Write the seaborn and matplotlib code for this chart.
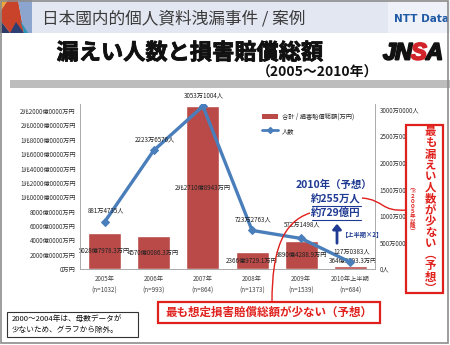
import matplotlib
matplotlib.use("Agg")
import matplotlib.pyplot as plt
import matplotlib.patheffects as pe
import seaborn as sns
import numpy as np
import pandas as pd
from matplotlib.patches import Rectangle, Polygon, FancyArrowPatch, PathPatch
from matplotlib.path import Path
from matplotlib.lines import Line2D

sns.set_theme(style="white")
plt.rcParams['font.family'] = ['Noto Sans CJK JP', 'DejaVu Sans']

# ---------------- data ----------------
categories = ["2005年\n(n=1032)", "2006年\n(n=993)", "2007年\n(n=864)",
              "2008年\n(n=1373)", "2009年\n(n=1539)", "2010年上半期\n(n=684)"]
damage_oku = [5028.80, 4570.01, 22710.89, 2366.97, 3890.43, 364.38]   # 億円
people_man = [881.47, 2223.66, 3053.10, 723.28, 572.15, 127.04]      # 万人
damage_labels = ["5028億7978.3万円", "4570億0086.3万円", "2兆2710億8943万円",
                 "2366億9729.1万円", "3890億4288.9万円", "364億3793.3万円"]
people_labels = ["881万4735人", "2223万6576人", "3053万1004人",
                 "723万2763人", "572万1498人", "127万0383人"]
left_ticks = list(range(0, 22001, 2000))
left_tick_labels = ["0万円", "2000億0000万円", "4000億0000万円", "6000億0000万円",
                    "8000億0000万円", "1兆0000億0000万円", "1兆2000億0000万円",
                    "1兆4000億0000万円", "1兆6000億0000万円", "1兆8000億0000万円",
                    "2兆0000億0000万円", "2兆2000億0000万円"]
right_ticks = list(range(0, 3001, 500))
right_tick_labels = ["0人", "500万0000人", "1000万0000人", "1500万0000人",
                     "2000万0000人", "2500万0000人", "3000万0000人"]
legend_bar = "合計 / 損害賠償総額(万円)"
legend_line = "人数"

W, H = 450, 345
BAR_C = "#B94A48"
LINE_C = "#4A7EBB"
RED = "#E0201C"
BLUE = "#1F3A93"

fig = plt.figure(figsize=(W / 100, H / 100), dpi=100)
fig.patch.set_facecolor("white")


def fx(x):
    return x / W


def fy(y):
    return 1 - y / H


def P(x, y):
    return (fx(x), fy(y))


# ---------------- header ----------------
fig.patches.append(Rectangle(P(0, 33), fx(450), 33 / H, transform=fig.transFigure,
                             facecolor="#E3E7F1", edgecolor="none", zorder=0))
fig.patches.append(Rectangle(P(388, 33), fx(62), 33 / H, transform=fig.transFigure,
                             facecolor="#EEF1F7", edgecolor="none", zorder=0))
logo = [
    ([(0, 0), (8, 0), (0, 12)], "#E9A93A"),
    ([(8, 0), (18, 0), (24, 33), (10, 33), (0, 20), (0, 12)], "#C9432B"),
    ([(0, 20), (10, 33), (0, 33)], "#2D3A66"),
    ([(10, 33), (24, 33), (16, 22)], "#2E3F73"),
    ([(18, 0), (32, 0), (32, 33), (24, 33)], "#8BA5CF"),
    ([(20, 20), (28, 33), (24, 33)], "#2C93B5"),
]
for pts, c in logo:
    fig.patches.append(Polygon([P(x, y) for x, y in pts], closed=True,
                               transform=fig.transFigure, facecolor=c,
                               edgecolor="none", zorder=1))
fig.text(fx(42), fy(19), "日本國内的個人資料洩漏事件 / 案例", fontsize=12,
         color="#3C3C3C", ha="left", va="center")
fig.text(fx(394), fy(19), "NTT Data", fontsize=7.5, color="#1F5AA6",
         weight="bold", ha="left", va="center", family="DejaVu Sans")

# ---------------- title ----------------
fig.text(fx(190), fy(53), "漏えい人数と損害賠償総額", fontsize=16, weight="bold",
         color="#111111", ha="center", va="center",
         path_effects=[pe.withStroke(linewidth=0.6, foreground="#111111")])
fig.text(fx(318), fy(73), "（2005～2010年）", fontsize=10, weight="bold",
         color="#111111", ha="center", va="center")
for ch, x, c in [("J", 383, "#111111"), ("N", 395, "#111111"),
                 ("S", 411, "#D1232A"), ("A", 426, "#111111")]:
    fig.text(fx(x), fy(53), ch, fontsize=17, weight="bold", style="italic",
             color=c, ha="left", va="center", family="Liberation Sans",
             path_effects=[pe.withStroke(linewidth=1.4, foreground=c)])
fig.patches.append(Rectangle(P(10, 88), fx(440), 8 / H, transform=fig.transFigure,
                             facecolor="#BDBDBD", edgecolor="none", zorder=0))

# ---------------- chart ----------------
ax = fig.add_axes([fx(80), fy(269), 295 / W, 165 / H])
ax.set_facecolor("none")
df = pd.DataFrame({"cat": categories, "damage": damage_oku, "people": people_man})
sns.barplot(data=df, x="cat", y="damage", color=BAR_C, width=0.67,
            saturation=1, ax=ax, zorder=2)
ax.set_xlim(-0.5, 5.5)
ax.set_ylim(0, 22975)
ax.set_yticks(left_ticks)
ax.set_yticklabels(left_tick_labels)
ax.set_xlabel("")
ax.set_ylabel("")
ax.tick_params(axis="y", labelsize=4.5, length=0, pad=3, labelcolor="#333333")
ax.tick_params(axis="x", labelsize=4.5, length=0, pad=4, labelcolor="#444444")
for lab in ax.get_xticklabels():
    lab.set_linespacing(1.7)

ax2 = ax.twinx()
ax2.set_facecolor("none")
sns.lineplot(x=np.arange(len(categories)), y=people_man, color=LINE_C,
             linewidth=2.4, marker="D", markersize=4.5, markeredgecolor=LINE_C,
             ax=ax2, zorder=3)
ax2.set_ylim(0, 3094)
ax2.set_yticks(right_ticks)
ax2.set_yticklabels(right_tick_labels)
ax2.tick_params(axis="y", labelsize=4.5, length=0, pad=3.5, labelcolor="#333333")
ax2.set_xlim(-0.5, 5.5)

for a in (ax, ax2):
    a.spines["top"].set_visible(False)
    for s in ("left", "right", "bottom"):
        a.spines[s].set_color("#AAAAAA")
        a.spines[s].set_linewidth(0.6)

for i, (v, t) in enumerate(zip(damage_oku, damage_labels)):
    yoff = 5 if v < 1000 else 0
    ax.annotate(t, (i, v / 2), xytext=(2 if i == 5 else 0, yoff),
                textcoords="offset points", ha="center", va="center",
                fontsize=4.5, color="#222222", zorder=5)
for i, (v, t) in enumerate(zip(people_man, people_labels)):
    ax2.annotate(t, (i, v), xytext=(1, 8 if i != 4 else 10),
                 textcoords="offset points", ha="center", va="center",
                 fontsize=4.5, color="#222222", zorder=5)

handles = [Rectangle((0, 0), 1, 1, facecolor=BAR_C, edgecolor="none"),
           Line2D([0], [0], color=LINE_C, lw=2, marker="D", markersize=3)]
fig.legend(handles, [legend_bar, legend_line], loc="upper left",
           bbox_to_anchor=P(259, 110), frameon=False, fontsize=4.5,
           handlelength=2.6, handleheight=0.9, labelspacing=1.0,
           handletextpad=0.6, borderaxespad=0)

# ---------------- annotations ----------------
fig.text(fx(334), fy(185), "2010年（予想）", fontsize=7.5, weight="bold",
         color=BLUE, ha="center", va="center")
fig.text(fx(336), fy(199), "約255万人", fontsize=7.5, weight="bold",
         color=BLUE, ha="center", va="center")
fig.text(fx(336), fy(213), "約729億円", fontsize=7.5, weight="bold",
         color=BLUE, ha="center", va="center")
for y in (206, 220):
    fig.add_artist(Line2D([fx(312), fx(361)], [fy(y), fy(y)], color=BLUE,
                          lw=0.8, transform=fig.transFigure))
fig.add_artist(FancyArrowPatch(P(337, 246), P(337, 221), transform=fig.transFigure,
                               arrowstyle="-|>,head_length=3,head_width=2.5",
                               color=BLUE, lw=2.0, mutation_scale=1))
fig.text(fx(342), fy(235), "【上半期×2】", fontsize=4.5, weight="bold",
         color=BLUE, ha="left", va="center")

curve1 = Path([P(362, 198), P(385, 200), P(380, 212), P(407, 210)],
              [Path.MOVETO, Path.CURVE4, Path.CURVE4, Path.CURVE4])
fig.add_artist(PathPatch(curve1, transform=fig.transFigure, facecolor="none",
                         edgecolor=RED, lw=1.0))
curve2 = Path([P(310, 213), P(283, 222), P(272, 250), P(272, 302)],
              [Path.MOVETO, Path.CURVE4, Path.CURVE4, Path.CURVE4])
fig.add_artist(PathPatch(curve2, transform=fig.transFigure, facecolor="none",
                         edgecolor=RED, lw=1.0))

# right red box (vertical text)
fig.patches.append(Rectangle(P(406, 293), fx(37), 168 / H, transform=fig.transFigure,
                             facecolor="white", edgecolor=RED, lw=1.6, zorder=6))
vert = list("最も漏えい人数が少ない") + ["︵", "予", "想", "︶"]
fig.text(fx(430.5), fy(210), "\n".join(vert), fontsize=8.2, weight="bold",
         color=RED, ha="center", va="center", multialignment="center",
         linespacing=0.82, zorder=7)
small = ["︵", "※", "２", "０", "０", "５", "年", "以", "降", "︶"]
fig.text(fx(412.5), fy(209), "\n".join(small), fontsize=4.0, weight="bold",
         color=RED, ha="center", va="center", multialignment="center",
         linespacing=1.0, zorder=7)

# bottom red box
fig.patches.append(Rectangle(P(158, 323), fx(222), 21 / H, transform=fig.transFigure,
                             facecolor="white", edgecolor=RED, lw=1.6, zorder=6))
fig.text(fx(269), fy(312.5), "最も想定損害賠償総額が少ない（予想）", fontsize=8.3,
         weight="bold", color=RED, ha="center", va="center", zorder=7)

# note box
fig.patches.append(Rectangle(P(7, 337), fx(131), 25 / H, transform=fig.transFigure,
                             facecolor="white", edgecolor="#333333", lw=0.8, zorder=6))
fig.text(fx(12), fy(324.5), "2000～2004年は、母数データが\n少ないため、グラフから除外。",
         fontsize=5.5, color="#111111", ha="left", va="center", linespacing=1.5,
         zorder=7)

fig.patches.append(Rectangle((fx(1), fy(343)), fx(447), 342 / H,
                             transform=fig.transFigure, facecolor="none",
                             edgecolor="#8C8C8C", lw=1.2, zorder=10))

fig.savefig("out.png", dpi=100)
